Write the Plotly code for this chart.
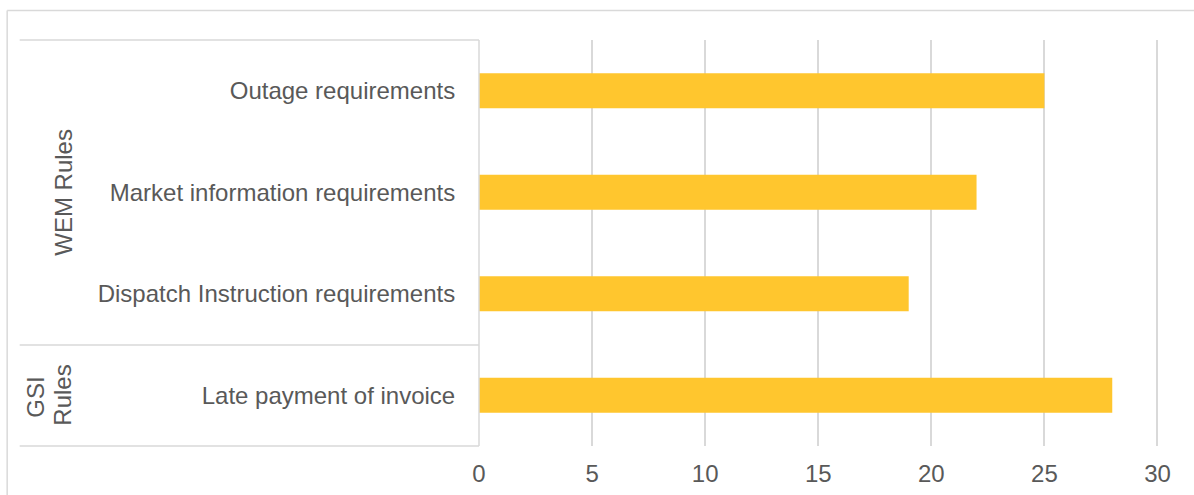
import plotly.graph_objects as go

categories = ["Outage requirements", "Market information requirements",
              "Dispatch Instruction requirements", "Late payment of invoice"]
values = [25, 22, 19, 28]
x_ticks = [0, 5, 10, 15, 20, 25, 30]

W, H = 1194, 495
L, T, B = 479, 40, 49
XMAX = 30.2
pw = 678 * XMAX / 30
R = W - L - pw
ph = H - T - B

def px2paper_x(px):
    return (px - L) / pw

def px2paper_y(py):
    return (H - B - py) / ph

grey = "#595959"
line = "#D9D9D9"

fig = go.Figure(go.Bar(
    x=values, y=categories, orientation="h",
    marker=dict(color="#FFC62E", line=dict(width=0)),
    width=0.345,
))

shapes = []
# outer chart border (top and left edges visible)
shapes.append(dict(type="line", xref="paper", yref="paper",
                   x0=px2paper_x(7.5), x1=px2paper_x(1300), y0=px2paper_y(10.5), y1=px2paper_y(10.5),
                   line=dict(color=line, width=1.5), layer="below"))
shapes.append(dict(type="line", xref="paper", yref="paper",
                   x0=px2paper_x(7.5), x1=px2paper_x(7.5), y0=px2paper_y(10.5), y1=px2paper_y(600),
                   line=dict(color=line, width=1.5), layer="below"))
# category divider lines (left label area)
for yv in [0, px2paper_y(345), 1]:
    shapes.append(dict(type="line", xref="paper", yref="paper",
                       x0=px2paper_x(20), x1=0, y0=yv, y1=yv,
                       line=dict(color=line, width=1.5)))
# vertical axis line
shapes.append(dict(type="line", xref="paper", yref="paper",
                   x0=0, x1=0, y0=0, y1=1, line=dict(color=line, width=1.5)))

def group_label(text, xpx, ypx):
    return dict(text=text, xref="paper", yref="paper", x=px2paper_x(xpx), y=px2paper_y(ypx),
                xanchor="center", yanchor="middle",
                textangle=-90, showarrow=False, font=dict(size=24, color=grey))

annotations = [
    group_label("WEM Rules", 63, 192),
    group_label("GSI", 35, 397),
    group_label("Rules", 62, 395),
]

fig.update_layout(
    width=W, height=H,
    margin=dict(l=L, r=R, t=T, b=B, autoexpand=False),
    paper_bgcolor="white", plot_bgcolor="white",
    font=dict(family="Liberation Sans, Arial, sans-serif", size=24, color=grey),
    showlegend=False,
    shapes=shapes,
    annotations=annotations,
)
fig.update_xaxes(range=[0, XMAX], tickvals=x_ticks, showgrid=True, gridcolor=line, gridwidth=1.5,
                 zeroline=False, showline=False, ticks="outside", ticklen=6,
                 tickcolor="rgba(0,0,0,0)", tickfont=dict(size=24, color=grey), automargin=False)
fig.update_yaxes(categoryorder="array", categoryarray=categories, autorange=False,
                 range=[3.5, -0.5], showgrid=False, zeroline=False, showline=False,
                 ticks="outside", ticklen=18, tickcolor="rgba(0,0,0,0)",
                 tickfont=dict(size=24, color=grey), automargin=False)

fig.write_html("out.html")
